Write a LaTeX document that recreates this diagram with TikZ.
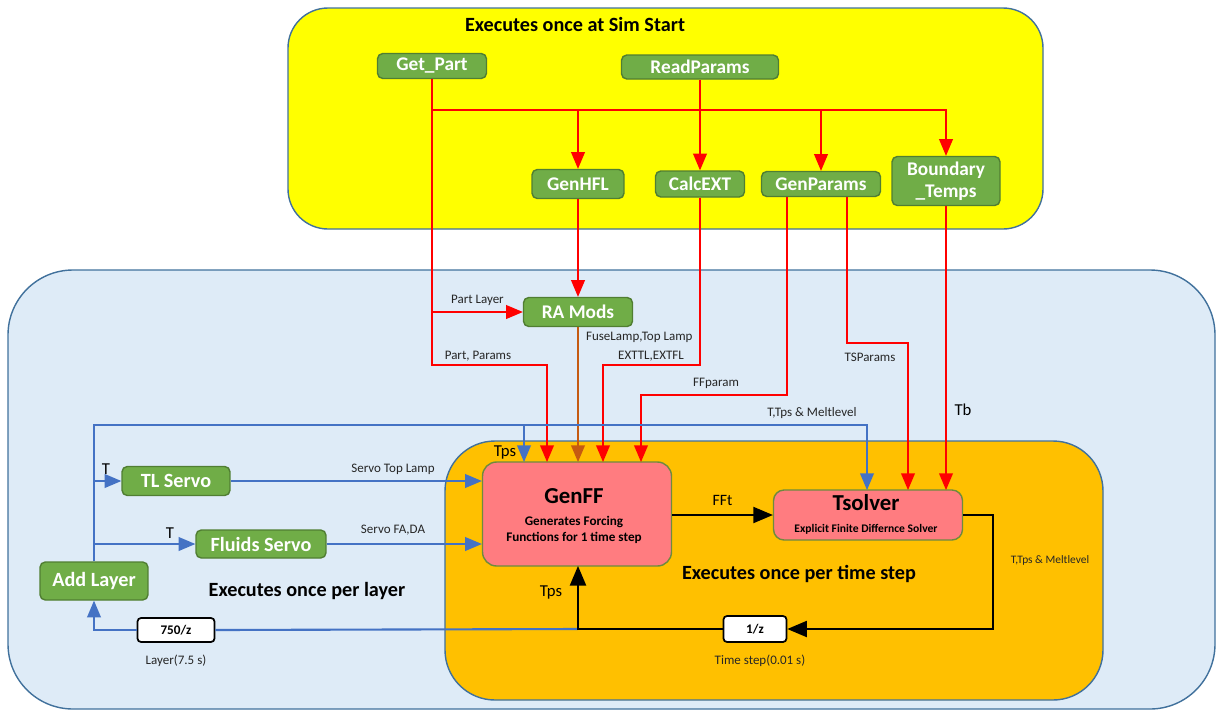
\documentclass[tikz,border=0pt]{standalone}
\usepackage{fontspec}
\setmainfont{Carlito}
\usepackage{xcolor}
\usepackage{tikz}
\usetikzlibrary{arrows}

\definecolor{boxline}{HTML}{41719C}
\definecolor{simyellow}{HTML}{FFFF00}
\definecolor{layerblue}{HTML}{DEEBF7}
\definecolor{stepgold}{HTML}{FFC000}
\definecolor{fngreen}{HTML}{70AD47}
\definecolor{fnborder}{HTML}{507E32}
\definecolor{solvepink}{HTML}{FF7C80}
\definecolor{solveborder}{HTML}{6E8B3D}
\definecolor{flowred}{HTML}{FF0000}
\definecolor{flowblue}{HTML}{4472C4}
\definecolor{flowbrown}{HTML}{C55A11}

\begin{document}
\begin{tikzpicture}[x=0.02cm,y=-0.02cm,>=triangle 45,
    fn node/.style={rectangle,rounded corners=3pt,draw=fnborder,fill=fngreen,line width=0.8pt,text=white,font=\fontsize{11}{12.5}\selectfont\bfseries,inner sep=0pt,align=center},
    solver node/.style={rectangle,rounded corners=8pt,draw=solveborder,fill=solvepink,line width=0.8pt,inner sep=0pt,align=center},
    delay node/.style={rectangle,rounded corners=2pt,draw=black,fill=white,line width=1pt,inner sep=0pt,font=\fontsize{7.5}{9}\selectfont\bfseries},
    red line/.style={draw=flowred,line width=1.2pt},
    blue line/.style={draw=flowblue,line width=1.2pt},
    black line/.style={draw=black,line width=1.6pt},
    small lbl/.style={font=\fontsize{7.4}{8.5}\selectfont,text=black!85,inner sep=1pt},
    title lbl/.style={font=\fontsize{11.5}{13}\selectfont\bfseries}]
    \useasboundingbox (0,0) rectangle (1217,711);

    % containers
    \draw[boxline,fill=layerblue,line width=0.8pt,rounded corners=1.3cm] (8,270) rectangle (1215,709);
    \draw[boxline,fill=simyellow,line width=0.8pt,rounded corners=0.8cm] (288,8) rectangle (1043,229);
    \draw[boxline,fill=stepgold,line width=0.8pt,rounded corners=1.0cm] (445,441) rectangle (1103,700);

    \node[title lbl] (simtitle) at (575,24) {Executes once at Sim Start};
    \node[title lbl] (layertitle) at (307,591) {Executes once per layer};
    \node[title lbl] (steptitle) at (799,574) {Executes once per time step};

    % blocks
    \node[fn node,minimum width=2.18cm,minimum height=0.5cm] (getpart) at (432,66) {Get\_Part};
    \node[fn node,minimum width=3.14cm,minimum height=0.48cm] (readparams) at (700,67) {ReadParams};
    \node[fn node,minimum width=1.84cm,minimum height=0.58cm] (genhfl) at (578,184) {GenHFL};
    \node[fn node,minimum width=1.78cm,minimum height=0.52cm] (calcext) at (700,184) {CalcEXT};
    \node[fn node,minimum width=2.38cm,minimum height=0.5cm] (genparams) at (821,184) {GenParams};
    \node[fn node,minimum width=2.16cm,minimum height=0.98cm] (boundary) at (946,181) {Boundary\\\_Temps};
    \node[fn node,minimum width=2.18cm,minimum height=0.58cm] (ramods) at (578,312) {RA Mods};
    \node[fn node,minimum width=2.16cm,minimum height=0.58cm,font=\fontsize{11.5}{13}\selectfont\bfseries] (tlservo) at (176,481) {TL Servo};
    \node[fn node,minimum width=2.6cm,minimum height=0.56cm,font=\fontsize{11.5}{13}\selectfont\bfseries] (fluids) at (261,544) {Fluids Servo};
    \node[fn node,minimum width=2.16cm,minimum height=0.76cm,font=\fontsize{11.5}{13}\selectfont\bfseries] (addlayer) at (94,581) {Add Layer};

    \node[solver node,minimum width=3.78cm,minimum height=2.08cm] (genff) at (577,514) {};
    \node[font=\fontsize{13}{15}\selectfont\bfseries] (genffname) at (574,496) {GenFF};
    \node[font=\fontsize{7.5}{9.5}\selectfont\bfseries,align=center] (genfftext) at (574,530) {Generates Forcing\\Functions for 1 time step};
    \node[solver node,minimum width=3.78cm,minimum height=1.0cm,rounded corners=6pt] (tsolver) at (868,515) {};
    \node[font=\fontsize{13}{15}\selectfont\bfseries] (tsolvername) at (866,503) {Tsolver};
    \node[font=\fontsize{6.6}{8}\selectfont\bfseries] (tsolvertext) at (866,529) {Explicit Finite Differnce Solver};

    \node[delay node,minimum width=1.54cm,minimum height=0.48cm] (d750) at (176,630) {750/z};
    \node[delay node,minimum width=1.26cm,minimum height=0.52cm] (d1) at (755,629) {1/z};
    \node[small lbl] (layerlbl) at (176,661) {Layer(7.5 s)};
    \node[small lbl] (steplbl) at (760,661) {Time step(0.01 s)};

    % bend points
    \coordinate (bus) at (432,110);
    \coordinate (pp) at (432,365);
    \coordinate (ce) at (603,365);
    \coordinate (fp) at (641,395);
    \coordinate (tsp) at (908,343);
    \coordinate (tl) at (94,425);
    \coordinate (loop) at (993,629);
    \coordinate (ffa) at (524,462);
    \coordinate (ffb) at (547,462);
    \coordinate (ffc) at (578,462);
    \coordinate (ffd) at (603,462);
    \coordinate (ffe) at (641,462);
    \coordinate (ffg) at (578,566);
    \coordinate (tsa) at (867,490);
    \coordinate (tsb) at (908,490);
    \coordinate (tsc) at (946,490);

    % red flows
    \draw[red line,->] (getpart.south) -- (pp) -| (ffb);
    \draw[red line,->] (bus) -| (boundary.north);
    \draw[red line,->] (genhfl.north |- bus) -- (genhfl.north);
    \draw[red line,->] (genparams.north |- bus) -- (genparams.north);
    \draw[red line,->] (readparams.south) -- (calcext.north);
    \draw[red line,->] (getpart.south |- ramods) -- (ramods.west) node[small lbl,midway,above=2pt] (partlayer) {Part Layer};
    \draw[red line,->] (genhfl.south) -- (ramods.north);
    \draw[red line,->] (calcext.south) |- (ce) -- (ffd);
    \draw[red line,->] ([xshift=-0.68cm]genparams.south) |- (fp) -- (ffe);
    \draw[red line,->] ([xshift=0.52cm]genparams.south) |- (tsp) -- (tsb);
    \draw[red line,->] (boundary.south) -- (tsc);
    \draw[flowbrown,line width=1.2pt,->] (ramods.south) -- (ffc);

    \node[small lbl] (partparams) at (478,356) {Part, Params};
    \node[small lbl,anchor=west] (fuselamp) at (584,337) {FuseLamp,Top Lamp};
    \node[small lbl] (exttl) at (651,356) {EXTTL,EXTFL};
    \node[small lbl] (ffparam) at (716,383) {FFparam};
    \node[small lbl] (tsparams) at (870,357) {TSParams};
    \node[font=\fontsize{9.5}{11}\selectfont] (tb) at (963,410) {Tb};

    % blue flows
    \draw[blue line,->] (addlayer.north) -- (tl) -| (tsa);
    \draw[blue line,->] (ffa |- tl) -- (ffa);
    \draw[blue line,->] (addlayer.north |- tlservo) -- (tlservo.west);
    \draw[blue line,->] (addlayer.north |- fluids) -- (fluids.west);
    \draw[blue line,->] (tlservo.east) -- (genff.west |- tlservo);
    \draw[blue line,->] (fluids.east) -- (genff.west |- fluids);
    \draw[blue line] (ffg |- d1) -- (d750.east);
    \draw[blue line,->] (d750.west) -| (addlayer.south);

    \node[small lbl] (meltlvl) at (812,413) {T,Tps \& Meltlevel};
    \node[font=\fontsize{9.5}{11}\selectfont] (tpsin) at (505,452) {Tps};
    \node[font=\fontsize{9.5}{11}\selectfont] (ttl) at (106,469) {T};
    \node[font=\fontsize{9.5}{11}\selectfont] (tfl) at (170,533) {T};
    \node[small lbl] (servotop) at (393,469) {Servo Top Lamp};
    \node[small lbl] (servofa) at (393,530) {Servo FA,DA};

    % black flows
    \draw[black line,->] (genff.east |- tsolver) -- (tsolver.west) node[midway,above=1pt,font=\fontsize{9}{10}\selectfont] (fft) {FFt};
    \draw[black line,->] (tsolver.east) -| (loop) -- (d1.east);
    \draw[black line,->] (d1.west) -| (ffg);
    \node[font=\fontsize{9.5}{11}\selectfont] (tpsback) at (551,592) {Tps};
    \node[small lbl,font=\fontsize{6.5}{8}\selectfont] (meltback) at (1050,560) {T,Tps \& Meltlevel};
\end{tikzpicture}
\end{document}
